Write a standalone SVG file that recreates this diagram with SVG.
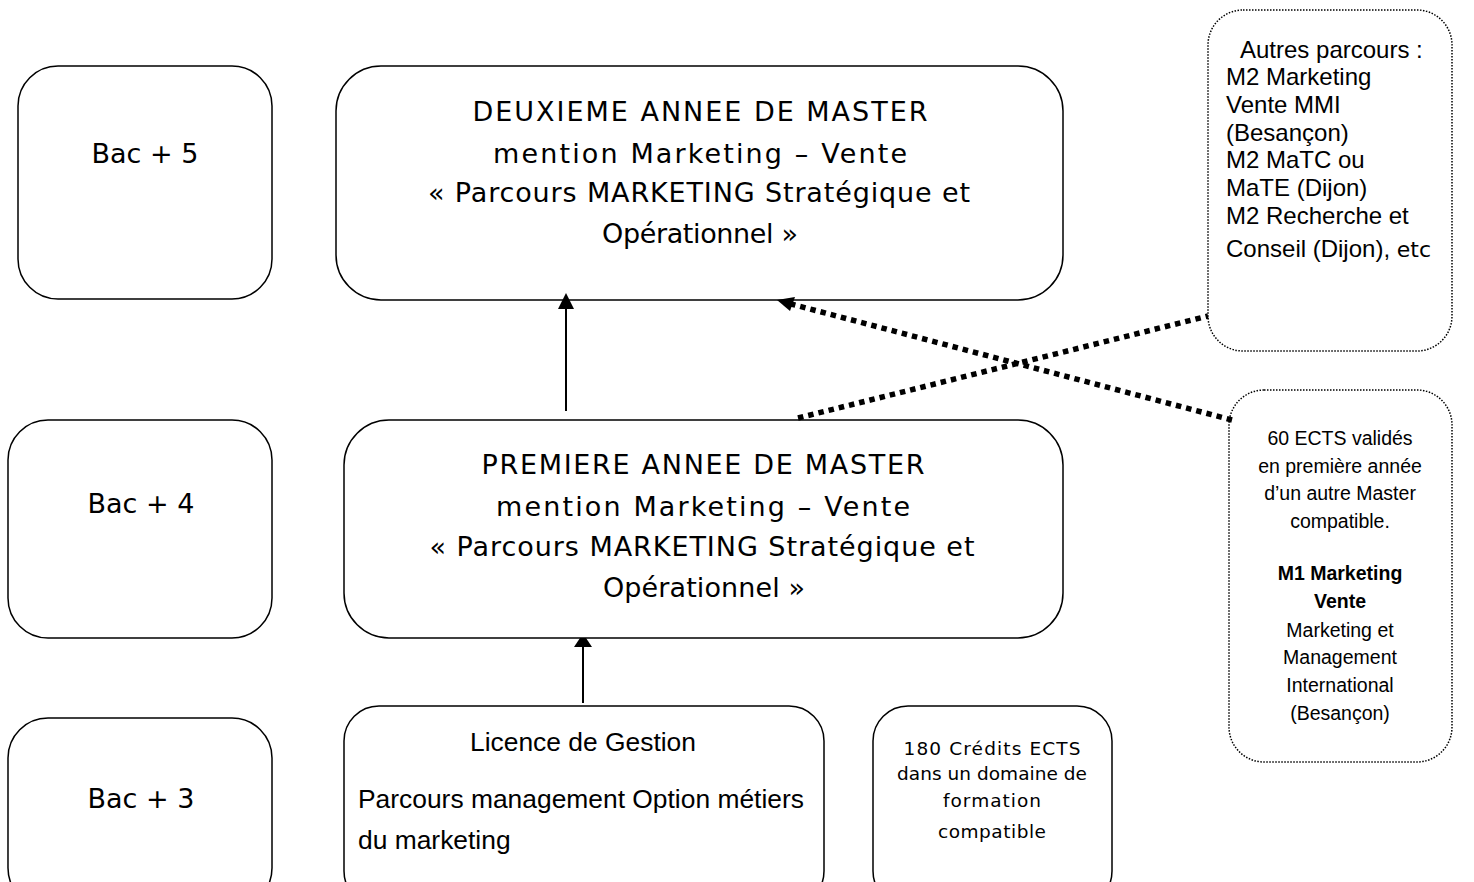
<svg xmlns="http://www.w3.org/2000/svg" width="1474" height="882" viewBox="0 0 1474 882">
<style>
.box{fill:#fff;stroke:#000;stroke-width:1.5}
.dot{fill:#fff;stroke:#000;stroke-width:1.5;stroke-dasharray:1.5 1.5}
.c{font-family:"Comic Sans MS","DejaVu Sans",sans-serif;fill:#000}
.a{font-family:"Liberation Sans",Arial,sans-serif;fill:#000}
.big{font-size:27px}
.bac{font-size:27px}
.mid{text-anchor:middle}
.line{stroke:#000;stroke-width:2;fill:none}
.dash{stroke:#000;stroke-width:5.5;stroke-dasharray:5.5 5;fill:none}
.head{fill:#000}
</style>
<rect width="1474" height="882" fill="#fff"/>
<g id="bac5"><rect class="box" x="18" y="66" width="254" height="233" rx="40"/><text class="c bac mid" x="145" y="163">Bac + 5</text></g>
<g id="bac4"><rect class="box" x="8" y="420" width="264" height="218" rx="40"/><text class="c bac mid" x="141" y="513">Bac + 4</text></g>
<g id="bac3"><rect class="box" x="8" y="718" width="264" height="190" rx="40"/><text class="c bac mid" x="141" y="808">Bac + 3</text></g>
<g id="m2"><rect class="box" x="336" y="66" width="727" height="234" rx="45"/>
<text class="c big mid" x="700" y="121" textLength="455" lengthAdjust="spacing">DEUXIEME ANNEE DE MASTER</text>
<text class="c big mid" x="700" y="163" textLength="414" lengthAdjust="spacing">mention Marketing – Vente</text>
<text class="c big mid" x="699" y="202" textLength="542" lengthAdjust="spacing">« Parcours MARKETING Stratégique et</text>
<text class="c big mid" x="700" y="243" textLength="196" lengthAdjust="spacing">Opérationnel »</text></g>
<g id="m1"><rect class="box" x="344" y="420" width="719" height="218" rx="45"/>
<text class="c big mid" x="703" y="474" textLength="443" lengthAdjust="spacing">PREMIERE ANNEE DE MASTER</text>
<text class="c big mid" x="703" y="516" textLength="414" lengthAdjust="spacing">mention Marketing – Vente</text>
<text class="c big mid" x="702" y="556" textLength="545" lengthAdjust="spacing">« Parcours MARKETING Stratégique et</text>
<text class="c big mid" x="704" y="597" textLength="202" lengthAdjust="spacing">Opérationnel »</text></g>
<g id="licence"><rect class="box" x="344" y="706" width="480" height="200" rx="35"/>
<text class="a mid" x="583" y="751" font-size="26.4">Licence de Gestion</text>
<text class="a" x="358" y="808" font-size="26.4">Parcours management Option métiers</text>
<text class="a" x="358" y="849" font-size="26.4">du marketing</text></g>
<g id="ects180"><rect class="box" x="873" y="706" width="239" height="200" rx="35"/>
<text class="c mid" x="992" y="755" font-size="18.5" textLength="177" lengthAdjust="spacing">180 Crédits ECTS</text>
<text class="c mid" x="992" y="780" font-size="18.5" textLength="190" lengthAdjust="spacing">dans un domaine de</text>
<text class="c mid" x="992" y="807" font-size="18.5" textLength="98" lengthAdjust="spacing">formation</text>
<text class="c mid" x="992" y="838" font-size="18.5" textLength="108" lengthAdjust="spacing">compatible</text></g>
<g id="autres"><rect class="dot" x="1208" y="10" width="244" height="341" rx="35"/>
<text class="a" font-size="24"><tspan x="1240" y="58">Autres parcours :</tspan><tspan x="1226" y="85">M2 Marketing</tspan><tspan x="1226" y="113">Vente MMI</tspan><tspan x="1226" y="141">(Besançon)</tspan><tspan x="1226" y="168">M2 MaTC ou</tspan><tspan x="1226" y="196">MaTE (Dijon)</tspan><tspan x="1226" y="224">M2 Recherche et</tspan><tspan x="1226" y="257">Conseil (Dijon), <tspan class="c" font-size="22">etc</tspan></tspan></text></g>
<g id="ects60"><rect class="dot" x="1229" y="390" width="223" height="372" rx="35"/>
<text class="a mid" font-size="19.5"><tspan x="1340" y="445">60 ECTS validés</tspan><tspan x="1340" y="473">en première année</tspan><tspan x="1340" y="500">d’un autre Master</tspan><tspan x="1340" y="528">compatible.</tspan><tspan x="1340" y="580" font-weight="bold">M1 Marketing</tspan><tspan x="1340" y="608" font-weight="bold">Vente</tspan><tspan x="1340" y="637">Marketing et</tspan><tspan x="1340" y="664">Management</tspan><tspan x="1340" y="692">International</tspan><tspan x="1340" y="720">(Besançon)</tspan></text></g>
<g id="connectors">
<line class="line" x1="566" y1="411" x2="566" y2="305"/>
<path class="head" d="M566,293 L574,309 L558,309 z"/>
<line class="line" x1="583" y1="703" x2="583" y2="645"/>
<path class="head" d="M580,638 L586,638 L592,647 L574,647 z"/>
<line class="dash" x1="1232" y1="420" x2="791" y2="304"/>
<path class="head" d="M777,300 L795,297 L790,311 z"/>
<line class="dash" x1="798" y1="418" x2="1208" y2="316"/>
</g>
</svg>
